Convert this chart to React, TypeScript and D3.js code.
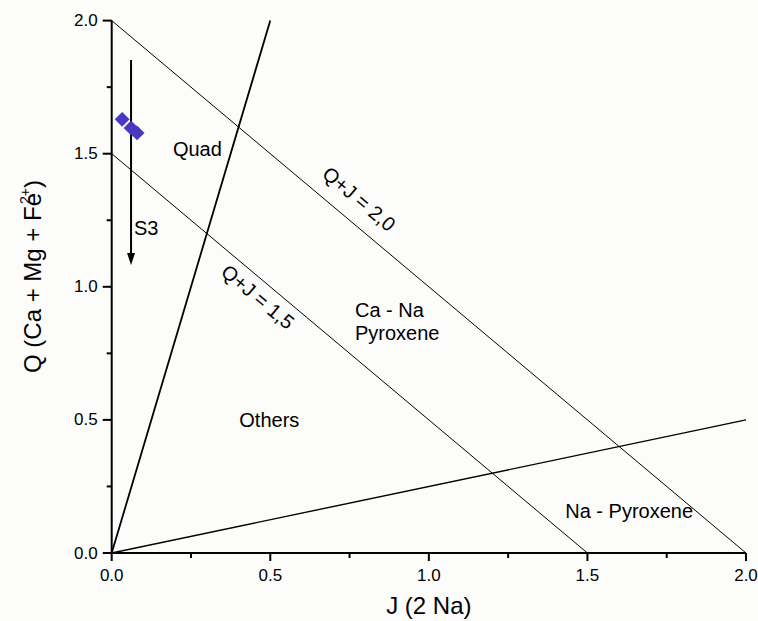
import React from "react";
import * as d3 from "d3";

const W = 758;
const H = 621;

const xTicksMajor = [0, 0.5, 1.0, 1.5, 2.0];
const xTicksMinor = [0.25, 0.75, 1.25, 1.75];
const yTicksMajor = [0, 0.5, 1.0, 1.5, 2.0];
const yTicksMinor = [0.25, 0.75, 1.25, 1.75];

// boundary lines [J, Q]
const lineQJ20: [number, number][] = [[0, 2], [2, 0]];
const lineQJ15: [number, number][] = [[0, 1.5], [1.5, 0]];
const lineQuad: [number, number][] = [[0, 0], [0.5, 2]];
const lineNa: [number, number][] = [[0, 0], [2, 0.5]];

// sample points
const ptJ = [0.033, 0.061, 0.08];
const ptQ = [1.629, 1.597, 1.578];

// trend arrow S3
const arrowJ = [0.061, 0.061];
const arrowQ = [1.852, 1.082];

const FONT = "'Liberation Sans', Arial, sans-serif";

export default function App() {
  const x = d3.scaleLinear().domain([0, 2]).range([111.7, 746]);
  const y = d3.scaleLinear().domain([0, 2]).range([553, 20.6]);
  const line = d3
    .line<[number, number]>()
    .x((d) => x(d[0]))
    .y((d) => y(d[1]));
  const fmt = d3.format(".1f");
  const angle =
    (Math.atan2(y(0) - y(2), x(2) - x(0)) * 180) / Math.PI;

  const diamond = d3.symbol().type(d3.symbolSquare).size(110)();

  return (
    <svg
      width={W}
      height={H}
      style={{ position: "absolute", left: 0, top: 0, background: "#fcfcfa" }}
      fontFamily={FONT}
    >
      <rect x={0} y={0} width={W} height={H} fill="#fcfcfa" />
      {/* boundary lines */}
      <path d={line(lineQJ20) || ""} stroke="#000" strokeWidth={1} fill="none" />
      <path d={line(lineQJ15) || ""} stroke="#000" strokeWidth={1} fill="none" />
      <path d={line(lineQuad) || ""} stroke="#000" strokeWidth={1.8} fill="none" />
      <path d={line(lineNa) || ""} stroke="#000" strokeWidth={1.4} fill="none" />

      {/* arrow */}
      <line
        x1={x(arrowJ[0])}
        y1={y(arrowQ[0])}
        x2={x(arrowJ[1])}
        y2={y(arrowQ[1]) - 10}
        stroke="#000"
        strokeWidth={2}
      />
      <path
        d={`M${x(arrowJ[1]) - 4},${y(arrowQ[1]) - 12} L${x(arrowJ[1]) + 4},${y(arrowQ[1]) - 12} L${x(arrowJ[1])},${y(arrowQ[1])} Z`}
        fill="#000"
      />
      <text x={x(arrowJ[1]) + 3} y={y(1.195)} fontSize={20}>
        S3
      </text>

      {/* points */}
      {ptJ.map((j, i) => (
        <path
          key={i}
          d={diamond || ""}
          transform={`translate(${x(j)},${y(ptQ[i])}) rotate(45)`}
          fill="#4a37c2"
        />
      ))}

      {/* region labels */}
      <text x={x(0.193)} y={y(1.491)} fontSize={20}>Quad</text>
      <text x={x(0.767)} y={y(0.886)} fontSize={20}>Ca - Na</text>
      <text x={x(0.767)} y={y(0.8)} fontSize={20}>Pyroxene</text>
      <text x={x(0.497)} y={y(0.473)} fontSize={20} textAnchor="middle">Others</text>
      <text x={x(1.43)} y={y(0.13)} fontSize={20}>Na - Pyroxene</text>

      {/* rotated line labels */}
      <text
        transform={`translate(${x(0.78)},${y(1.33)}) rotate(${angle})`}
        fontSize={20}
        textAnchor="middle"
        dominantBaseline="central"
      >
        Q+J = 2,0
      </text>
      <text
        transform={`translate(${x(0.461)},${y(0.962)}) rotate(${angle})`}
        fontSize={20}
        textAnchor="middle"
        dominantBaseline="central"
      >
        Q+J = 1,5
      </text>

      {/* axes */}
      <line x1={x(0)} y1={y(0)} x2={x(2)} y2={y(0)} stroke="#000" strokeWidth={2} />
      <line x1={x(0)} y1={y(0)} x2={x(0)} y2={y(2)} stroke="#000" strokeWidth={2} />
      {xTicksMajor.map((t) => (
        <g key={"xM" + t}>
          <line x1={x(t)} x2={x(t)} y1={y(0)} y2={y(0) + 8} stroke="#000" strokeWidth={2} />
          <text x={x(t)} y={y(0) + 28} fontSize={17} textAnchor="middle">
            {fmt(t)}
          </text>
        </g>
      ))}
      {xTicksMinor.map((t) => (
        <line key={"xm" + t} x1={x(t)} x2={x(t)} y1={y(0)} y2={y(0) + 5} stroke="#000" strokeWidth={2} />
      ))}
      {yTicksMajor.map((t) => (
        <g key={"yM" + t}>
          <line x1={x(0)} x2={x(0) - 9} y1={y(t)} y2={y(t)} stroke="#000" strokeWidth={2} />
          <text x={x(0) - 14} y={y(t)} fontSize={17} textAnchor="end" dominantBaseline="central">
            {fmt(t)}
          </text>
        </g>
      ))}
      {yTicksMinor.map((t) => (
        <line key={"ym" + t} x1={x(0)} x2={x(0) - 5} y1={y(t)} y2={y(t)} stroke="#000" strokeWidth={2} />
      ))}

      {/* axis titles */}
      <text x={x(1)} y={614} fontSize={24} textAnchor="middle">
        J (2 Na)
      </text>
      <text
        transform={`translate(41,373) rotate(-90)`}
        fontSize={24}
        textAnchor="start"
      >
        Q (Ca + Mg + Fe
        <tspan fontSize={14} dy={-11} dx={-11}>2+</tspan>
        <tspan dy={11}>)</tspan>
      </text>
    </svg>
  );
}
